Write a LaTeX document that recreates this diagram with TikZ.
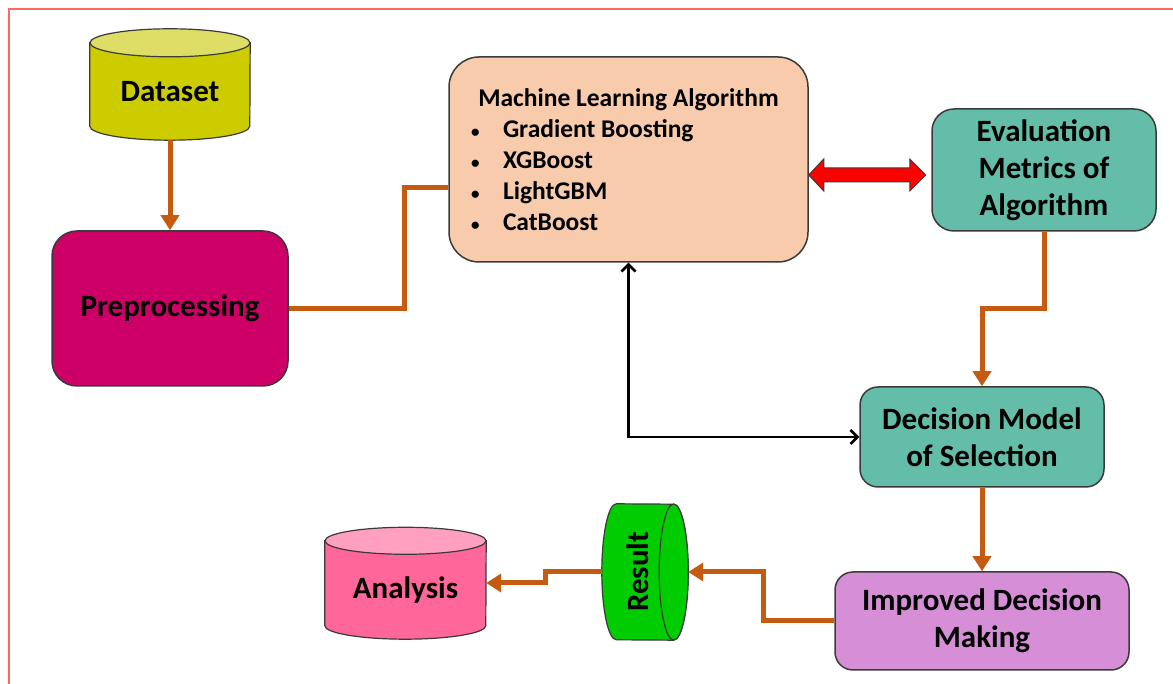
\documentclass[tikz,border=0pt]{standalone}
\usepackage{fontspec}
\setmainfont{Carlito}
\usepackage{tikz}
\usetikzlibrary{arrows.meta,positioning,calc,backgrounds}
\definecolor{dsyellow}{HTML}{CCCC00}
\definecolor{dstop}{HTML}{DEDE66}
\definecolor{prered}{HTML}{CC0066}
\definecolor{mlpeach}{HTML}{F8CBAD}
\definecolor{evteal}{HTML}{63BDA9}
\definecolor{imorchid}{HTML}{D68FD6}
\definecolor{rsgreen}{HTML}{00CC00}
\definecolor{anpink}{HTML}{FF6699}
\definecolor{antop}{HTML}{FFA0C0}
\definecolor{linebrown}{HTML}{C55A11}
\definecolor{framered}{HTML}{FF6666}
\definecolor{edgegray}{HTML}{3A3A3A}
\newcommand{\mlitem}[1]{\makebox[321pt][l]{\makebox[35pt][l]{\kern3pt{\fontsize{17}{17}\selectfont\textbullet}}#1}}

\begin{document}
\begin{tikzpicture}[x=1pt,y=1pt,
  box/.style={rounded corners=22pt,draw=edgegray,line width=1.5pt,align=center,font=\fontsize{31}{37}\selectfont\bfseries,inner sep=0pt},
  db/.style={align=center,font=\fontsize{31}{37}\selectfont\bfseries,inner sep=0pt},
  dbline/.style={draw=edgegray,line width=1.2pt},
  flow/.style={draw=linebrown,line width=5pt},
  flowarr/.style={flow,-{Triangle[length=15pt,width=18pt]}},
  back/.style={draw=black,line width=2.5pt,{Straight Barb[length=7pt,width=14pt]}-{Straight Barb[length=7pt,width=14pt]}}]
  \useasboundingbox (0,0) rectangle (1173,684);
  \draw[framered,line width=2pt] (9,0) -- (9,675) -- (1173,675);

  % boxes
  \node[db,minimum width=160pt,minimum height=97pt] (ds) at (170,592.5) {Dataset};
  \node[box,fill=prered,minimum width=236pt,minimum height=155pt,rounded corners=25pt] (pre) at (170,375.5) {Preprocessing};
  \node[box,fill=mlpeach,minimum width=359pt,minimum height=205pt,rounded corners=30pt,
        font=\fontsize{25.5}{31}\selectfont\bfseries] (ml) at (628.5,524.5)
    {\makebox[321pt][c]{Machine Learning Algorithm}\\
     \mlitem{Gradient Boosting}\\
     \mlitem{XGBoost}\\
     \mlitem{LightGBM}\\
     \mlitem{CatBoost}};
  \node[box,fill=evteal,minimum width=224pt,minimum height=122pt] (ev) at (1044,514) {Evaluation\\Metrics of\\Algorithm};
  \node[box,fill=evteal,minimum width=244pt,minimum height=100pt,rounded corners=18pt] (dc) at (982,247) {Decision Model\\of Selection};
  \node[box,fill=imorchid,minimum width=294pt,minimum height=98pt,rounded corners=18pt] (im) at (982,63) {Improved Decision\\Making};
  \node[db,minimum width=161pt,minimum height=98pt] (an) at (405.5,94) {Analysis};
  \node[inner sep=0pt,minimum width=86pt,minimum height=136pt] (rs) at (645,112) {};

  % cylinders
  \begin{scope}[on background layer]
    \draw[dbline,fill=dsyellow] (ds.north west) -- ($(ds.south west)+(0,14)$) arc[start angle=180,end angle=360,x radius=80,y radius=14] -- (ds.north east) -- cycle;
    \draw[dbline,fill=dstop] (ds.north) ellipse[x radius=80,y radius=14];
    \draw[dbline,fill=anpink] (an.north west) -- ($(an.south west)+(0,13.5)$) arc[start angle=180,end angle=360,x radius=80.5,y radius=13.5] -- (an.north east) -- cycle;
    \draw[dbline,fill=antop] (an.north) ellipse[x radius=80.5,y radius=13.5];
  \end{scope}
  \draw[dbline,fill=rsgreen] ($(rs.north west)+(14.5,0)$) arc[start angle=90,end angle=270,x radius=14.5,y radius=68] -- ($(rs.south east)+(-14.5,0)$) arc[start angle=-90,end angle=90,x radius=14.5,y radius=68] -- cycle;
  \draw[dbline,fill=rsgreen] ($(rs.east)+(-14.5,0)$) ellipse[x radius=14.5,y radius=68];
  \node[db,rotate=90] (rslabel) at ($(rs.center)+(-7,0)$) {Result};

  % connectors
  \draw[flowarr] (ds.south) -- (pre.north);
  \draw[flow] (pre.east) -- ++(116,0) |- ($(ml.west)+(0,-28.5)$);
  \draw[fill=red,draw=edgegray,line width=1pt] ($(ml.east)+(0,-15.5)$) -- ++(15,16) -- ++(0,-9) -- ++(86,0) -- ++(0,9) -- ++(16,-16) -- ++(-16,-16) -- ++(0,9) -- ++(-86,0) -- ++(0,-9) -- cycle;
  \draw[flowarr] (ev.south) -- ++(0,-77) -| (dc.north);
  \draw[back] (ml.south) |- (dc.west);
  \draw[flowarr] (dc.south) -- (im.north);
  \draw[flowarr] (im.west) -- ++(-71,0) |- (rs.east);
  \draw[flowarr] (rs.west) -- ++(-56,0) |- ($(an.east)+(0,7)$);
\end{tikzpicture}
\end{document}
